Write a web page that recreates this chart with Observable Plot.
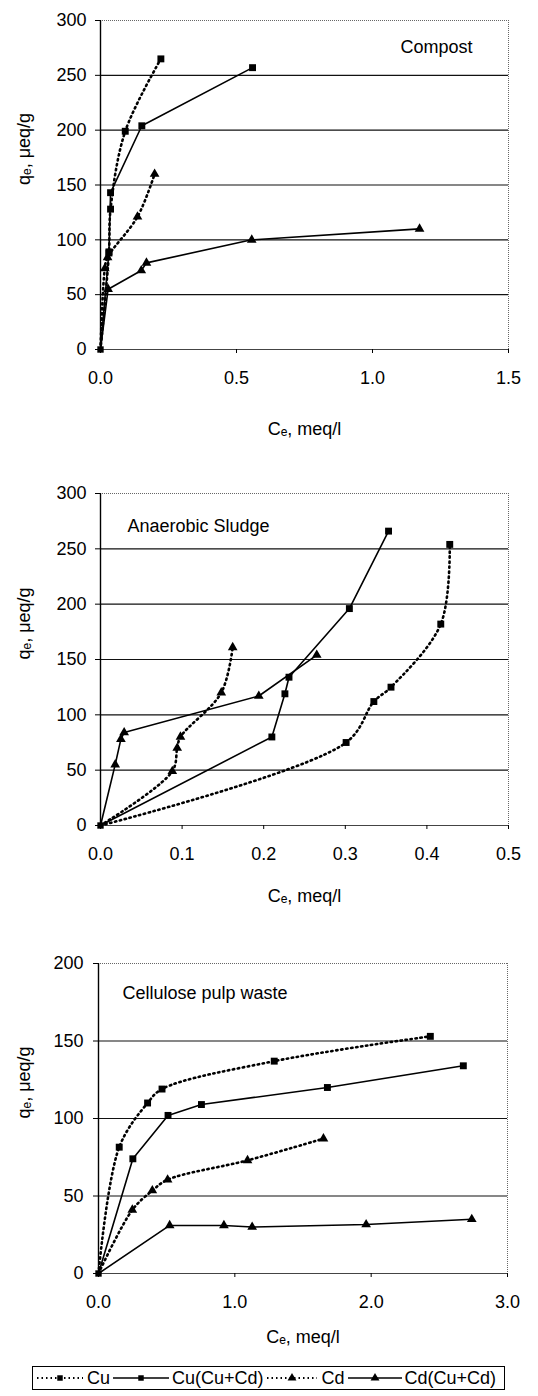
<!DOCTYPE html>
<html><head><meta charset="utf-8">
<script src="https://cdn.jsdelivr.net/npm/d3@7"></script>
<script src="https://cdn.jsdelivr.net/npm/@observablehq/plot@0.6"></script>
<style>
body{margin:0;background:#fff;font-family:"Liberation Sans",Arial,sans-serif;color:#000;}
#charts svg{display:block}
#legend{position:relative;margin:11px 0 0 32px;width:471px;height:22px;border:1px solid #000;display:flex;align-items:center;font-size:18px;white-space:nowrap;}
#legend .item{display:flex;align-items:center;}
#legend svg{display:block}
</style></head><body>
<div id="charts"></div>
<div id="legend"></div>
<script>
const seriesNames = ["Cu", "Cu(Cu+Cd)", "Cd", "Cd(Cu+Cd)"];
const yLabel = "qₑ, μeq/g";
const xLabel = "Cₑ, meq/l";

// Compost  [Ce, qe]
const compostCu     = [[0,0],[0.031,88],[0.037,128],[0.091,199],[0.222,265]];
const compostCuMix  = [[0,0],[0.031,89],[0.037,143],[0.152,204],[0.559,257]];
const compostCd     = [[0,0],[0.016,74],[0.026,84],[0.136,121],[0.199,160]];
const compostCdMix  = [[0,0],[0.028,55],[0.150,72],[0.169,79],[0.556,100],[1.173,110]];

// Anaerobic sludge
const sludgeCu      = [[0,0],[0.301,75],[0.335,112],[0.356,125],[0.417,182],[0.428,254]];
const sludgeCuMix   = [[0,0],[0.210,80],[0.226,119],[0.231,134],[0.305,196],[0.353,266]];
const sludgeCd      = [[0,0],[0.088,49],[0.094,70],[0.098,80],[0.148,120],[0.162,161]];
const sludgeCdMix   = [[0,0],[0.018,55],[0.025,78],[0.029,84],[0.194,117],[0.265,154]];

// Cellulose pulp waste
const pulpCu        = [[0,0],[0.152,81.5],[0.360,110],[0.466,119],[1.289,137],[2.434,153]];
const pulpCuMix     = [[0,0],[0.252,74],[0.510,102],[0.755,109],[1.679,120],[2.676,134]];
const pulpCd        = [[0,0],[0.248,41],[0.395,53.5],[0.507,60.5],[1.093,73],[1.650,87]];
const pulpCdMix     = [[0,0],[0.522,31],[0.920,31],[1.127,30],[1.963,31.6],[2.738,35]];

const compostXTicks = [0, 0.5, 1.0, 1.5];
const sludgeXTicks  = [0, 0.1, 0.2, 0.3, 0.4, 0.5];
const pulpXTicks    = [0, 1.0, 2.0, 3.0];
const compostYTicks = [0, 50, 100, 150, 200, 250, 300];
const sludgeYTicks  = [0, 50, 100, 150, 200, 250, 300];
const pulpYTicks    = [0, 50, 100, 150, 200];

const seriesStyle = [
  {dash: "1.4,3.6", width: 2.6, symbol: "square", curve: "catmull-rom"},
  {dash: null,  width: 1.6, symbol: "square", curve: "linear"},
  {dash: "1.4,3.6", width: 2.6, symbol: "triangle", curve: "catmull-rom"},
  {dash: null,  width: 1.6, symbol: "triangle", curve: "linear"}
];

function panel(cfg) {
  const xMax = cfg.xTicks[cfg.xTicks.length - 1];
  const yMax = cfg.yTicks[cfg.yTicks.length - 1];
  const marks = [
    Plot.ruleY(cfg.yTicks.filter(v => v > 0 && v < yMax), {stroke: "#111", strokeWidth: 1.1}),
    Plot.ruleY([yMax], {stroke: "#666", strokeDasharray: "1,1"}),
    Plot.ruleX([xMax], {stroke: "#666", strokeDasharray: "1,1"}),
    Plot.ruleY([0], {stroke: "#444"}),
    Plot.ruleX([0], {stroke: "#000", strokeWidth: 1.4}),
    Plot.axisX(cfg.xTicks, {tickFormat: d3.format(".1f"), tickSize: 4, tickPadding: 18, label: null, fontSize: 18}),
    Plot.axisY(cfg.yTicks, {tickSize: 5, tickPadding: cfg.yPad, tickFormat: d => String(d), label: null, fontSize: 18})
  ];
  cfg.series.forEach((pts, i) => {
    const st = seriesStyle[i];
    marks.push(Plot.line(pts, {x: d => d[0], y: d => d[1], stroke: "#000", strokeWidth: st.width,
      strokeDasharray: st.dash || undefined, curve: st.curve}));
  });
  cfg.series.forEach((pts, i) => {
    const st = seriesStyle[i];
    marks.push(Plot.dot(pts.slice(1), {x: d => d[0], y: d => d[1], symbol: st.symbol,
      r: st.symbol === "square" ? 3.9 : 3.6, fill: "#000", stroke: "none"}));
  });
  // origin marker
  marks.push(Plot.dot([cfg.series[0][0]], {x: d => d[0], y: d => d[1], symbol: "square", r: 3.6, fill: "#000"}));
  marks.push(Plot.text([cfg.title], {frameAnchor: cfg.titleAnchor, textAnchor: cfg.titleAnchor === "top-right" ? "end" : "start",
    dx: cfg.titleDx, dy: cfg.titleDy, lineAnchor: "middle", fontSize: 18}));
  marks.push(Plot.text([yLabel], {frameAnchor: "left", rotate: -90, dx: cfg.yLabelDx, lineAnchor: "middle", fontSize: 18}));
  marks.push(Plot.text([xLabel], {frameAnchor: "bottom", dy: cfg.xLabelDy, lineAnchor: "middle", fontSize: 18}));
  return Plot.plot({
    width: 538, height: cfg.height,
    marginLeft: cfg.ml, marginRight: cfg.mr, marginTop: cfg.mt, marginBottom: cfg.mb,
    x: {domain: [0, xMax]},
    y: {domain: [0, yMax]},
    style: {fontFamily: "Liberation Sans, Arial, sans-serif", fontSize: "18px", background: "#fff", color: "#000"},
    marks
  });
}

const charts = document.getElementById("charts");
charts.append(panel({
  series: [compostCu, compostCuMix, compostCd, compostCdMix],
  xTicks: compostXTicks, yTicks: compostYTicks, title: "Compost",
  titleAnchor: "top-right", titleDx: -36, titleDy: 27,
  height: 460, ml: 100, mr: 30, mt: 20, mb: 111, yPad: 9, yLabelDx: -76, xLabelDy: 80
}));
charts.append(panel({
  series: [sludgeCu, sludgeCuMix, sludgeCd, sludgeCdMix],
  xTicks: sludgeXTicks, yTicks: sludgeYTicks, title: "Anaerobic Sludge",
  titleAnchor: "top-left", titleDx: 27, titleDy: 33,
  height: 455, ml: 100, mr: 30, mt: 33, mb: 90, yPad: 9, yLabelDx: -76, xLabelDy: 71
}));
charts.append(panel({
  series: [pulpCu, pulpCuMix, pulpCd, pulpCdMix],
  xTicks: pulpXTicks, yTicks: pulpYTicks, title: "Cellulose pulp waste",
  titleAnchor: "top-left", titleDx: 24, titleDy: 30,
  height: 440, ml: 98, mr: 31, mt: 48, mb: 82, yPad: 10, yLabelDx: -74, xLabelDy: 64
}));

// legend
const legend = document.getElementById("legend");
const sampleW = [46, 56, 50, 54];
const gaps = [4, 3, 5, 3];
seriesNames.forEach((name, i) => {
  const st = seriesStyle[i];
  const item = document.createElement("div");
  item.className = "item";
  item.style.marginLeft = (i === 0 ? 4 : 3) + "px";
  const w = sampleW[i];
  const ns = "http://www.w3.org/2000/svg";
  const svg = document.createElementNS(ns, "svg");
  svg.setAttribute("width", w); svg.setAttribute("height", 16);
  const ln = document.createElementNS(ns, "line");
  ln.setAttribute("x1", 0); ln.setAttribute("x2", w); ln.setAttribute("y1", 8); ln.setAttribute("y2", 8);
  ln.setAttribute("stroke", "#000"); ln.setAttribute("stroke-width", st.dash ? 2 : 1.5);
  if (st.dash) ln.setAttribute("stroke-dasharray", "1.5,3");
  svg.append(ln);
  const p = document.createElementNS(ns, "path");
  const sym = st.symbol === "square" ? d3.symbolSquare : d3.symbolTriangle;
  p.setAttribute("d", d3.symbol(sym, st.symbol === "square" ? 30 : 34)());
  p.setAttribute("transform", `translate(${w / 2},8)`);
  svg.append(p);
  const t = document.createElement("span");
  t.textContent = name;
  t.style.marginLeft = gaps[i] + "px";
  item.append(svg, t);
  legend.append(item);
});
</script>
</body></html>
